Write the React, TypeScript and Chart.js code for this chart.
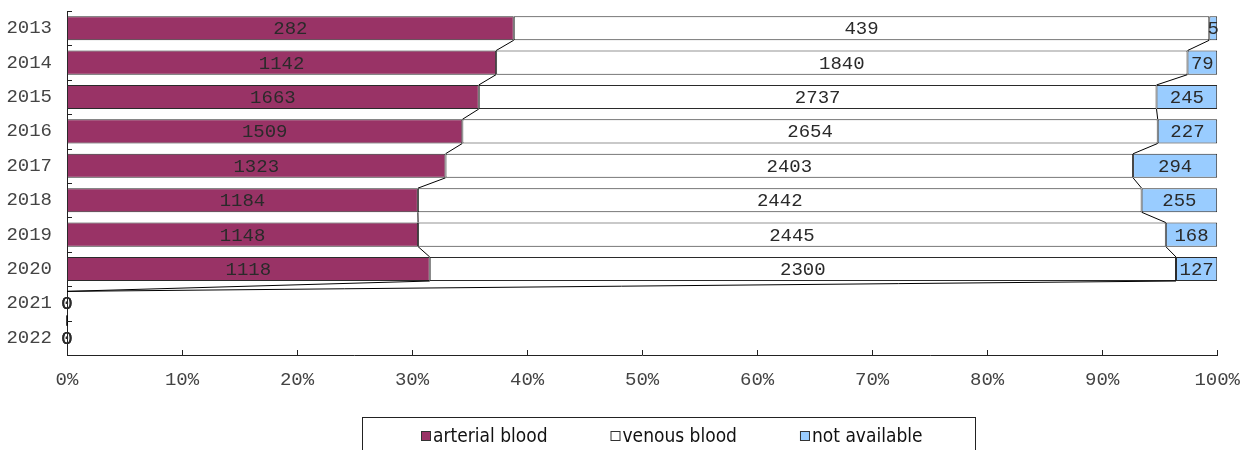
import React, { useEffect, useRef } from "react";
import { Chart, registerables } from "chart.js";

Chart.register(...registerables);

const years = ["2013", "2014", "2015", "2016", "2017", "2018", "2019", "2020", "2021", "2022"];
const arterialBlood = [282, 1142, 1663, 1509, 1323, 1184, 1148, 1118, 0, 0];
const venousBlood = [439, 1840, 2737, 2654, 2403, 2442, 2445, 2300, 0, 0];
const notAvailable = [5, 79, 245, 227, 294, 255, 168, 127, 0, 0];
const seriesLabels = ["arterial blood", "venous blood", "not available"];
const seriesColors = ["#993366", "#FFFFFF", "#99CCFF"];
const xTickValues = [0, 10, 20, 30, 40, 50, 60, 70, 80, 90, 100];

const rawSeries = [arterialBlood, venousBlood, notAvailable];
const totals = years.map((_, i) => arterialBlood[i] + venousBlood[i] + notAvailable[i]);
const toPct = (arr: number[]) => arr.map((v, i) => (totals[i] ? (v / totals[i]) * 100 : 0));

const MONO = "'Liberation Mono', 'Courier New', monospace";
const SANS = "'DejaVu Sans Condensed', 'DejaVu Sans', sans-serif";

const decorPlugin = {
  id: "decor",
  afterDatasetsDraw(chart: any) {
    const ctx = chart.ctx;
    const xs = chart.scales.x;
    const ys = chart.scales.y;
    const area = chart.chartArea;
    ctx.save();
    // series lines between bar edges
    ctx.strokeStyle = "#000";
    ctx.lineWidth = 1;
    for (let k = 0; k < 2; k++) {
      const meta = chart.getDatasetMeta(k);
      for (let i = 0; i < meta.data.length - 1; i++) {
        const a = meta.data[i].getProps(["x", "y", "height"], true);
        const b = meta.data[i + 1].getProps(["x", "y", "height"], true);
        ctx.beginPath();
        ctx.moveTo(a.x, a.y + a.height / 2);
        ctx.lineTo(b.x, b.y - b.height / 2);
        ctx.stroke();
      }
    }
    // data labels
    ctx.font = `19px ${MONO}`;
    ctx.fillStyle = "#2a2a2a";
    ctx.textAlign = "center";
    ctx.textBaseline = "middle";
    rawSeries.forEach((arr, k) => {
      const meta = chart.getDatasetMeta(k);
      meta.data.forEach((el: any, i: number) => {
        const p = el.getProps(["x", "y", "base"], true);
        ctx.fillText(String(arr[i]), (p.x + p.base) / 2, p.y + 1);
      });
    });
    // inward tick marks
    ctx.strokeStyle = "#222";
    for (let i = 0; i <= years.length; i++) {
      const y = Math.round(ys.getPixelForValue(i - 0.5)) + 0.5;
      ctx.beginPath();
      ctx.moveTo(area.left, y);
      ctx.lineTo(area.left + 5, y);
      ctx.stroke();
    }
    xTickValues.forEach((v) => {
      const x = Math.round(xs.getPixelForValue(v)) + 0.5;
      ctx.beginPath();
      ctx.moveTo(x, area.bottom);
      ctx.lineTo(x, area.bottom - 5);
      ctx.stroke();
    });
    ctx.restore();
  },
  afterDraw(chart: any) {
    const ctx = chart.ctx;
    ctx.save();
    const boxL = 362, boxT = 417, boxW = 613;
    ctx.strokeStyle = "#222";
    ctx.lineWidth = 1;
    ctx.strokeRect(boxL + 0.5, boxT + 0.5, boxW, 60);
    ctx.font = `19px ${SANS}`;
    try { (ctx as any).fontStretch = "condensed"; } catch (e) {}
    ctx.textBaseline = "alphabetic";
    ctx.textAlign = "left";
    const gap = 62;
    const widths = seriesLabels.map((t) => 10 + 3 + ctx.measureText(t).width);
    const total = widths.reduce((s, w) => s + w, 0) + gap * (widths.length - 1);
    let x = Math.round(boxL + boxW / 2 - total / 2) + 4;
    seriesLabels.forEach((t, k) => {
      ctx.fillStyle = seriesColors[k];
      ctx.fillRect(x, 431, 10, 10);
      ctx.strokeStyle = "#333";
      ctx.strokeRect(x + 0.5, 431.5, 9, 9);
      ctx.fillStyle = "#111";
      ctx.fillText(t, x + 12, 442);
      x += widths[k] + gap;
    });
    ctx.restore();
  },
};

export default function App() {
  const ref = useRef<HTMLCanvasElement | null>(null);
  useEffect(() => {
    if (!ref.current) return;
    const chart = new Chart(ref.current, {
      type: "bar",
      data: {
        labels: years,
        datasets: rawSeries.map((arr, k) => ({
          label: seriesLabels[k],
          data: toPct(arr),
          backgroundColor: seriesColors[k],
          borderColor: "#2a2a2a",
          borderWidth: 1,
          borderSkipped: false,
          barPercentage: 0.7,
          categoryPercentage: 1,
        })),
      },
      options: {
        indexAxis: "y",
        animation: false,
        responsive: false,
        maintainAspectRatio: false,
        layout: { padding: { top: 11, right: 36, bottom: 55, left: 0 } },
        plugins: { legend: { display: false }, tooltip: { enabled: false } },
        scales: {
          x: {
            stacked: true,
            min: 0,
            max: 100,
            afterBuildTicks: (scale: any) => {
              scale.ticks = xTickValues.map((v) => ({ value: v }));
            },
            afterFit: (scale: any) => {
              scale.height = 40;
            },
            ticks: {
              callback: (v: any) => `${v}%`,
              font: { family: MONO, size: 19 },
              color: "#444",
              padding: 14,
              maxRotation: 0,
              autoSkip: false,
            },
            grid: { display: false, drawTicks: false },
            border: { display: true, color: "#222", width: 1 },
          },
          y: {
            stacked: true,
            afterFit: (scale: any) => {
              scale.width = 67;
              scale.paddingTop = 0;
              scale.paddingBottom = 0;
            },
            ticks: {
              font: { family: MONO, size: 19 },
              color: "#444",
              padding: 15,
              autoSkip: false,
            },
            grid: { display: false, drawTicks: false },
            border: { display: true, color: "#222", width: 1 },
          },
        },
      },
      plugins: [decorPlugin],
    });
    return () => chart.destroy();
  }, []);
  return (
    <div style={{ position: "absolute", left: 0, top: 0, width: 1254, height: 450, background: "#fff" }}>
      <canvas ref={ref} width={1254} height={450} style={{ display: "block" }} />
    </div>
  );
}
